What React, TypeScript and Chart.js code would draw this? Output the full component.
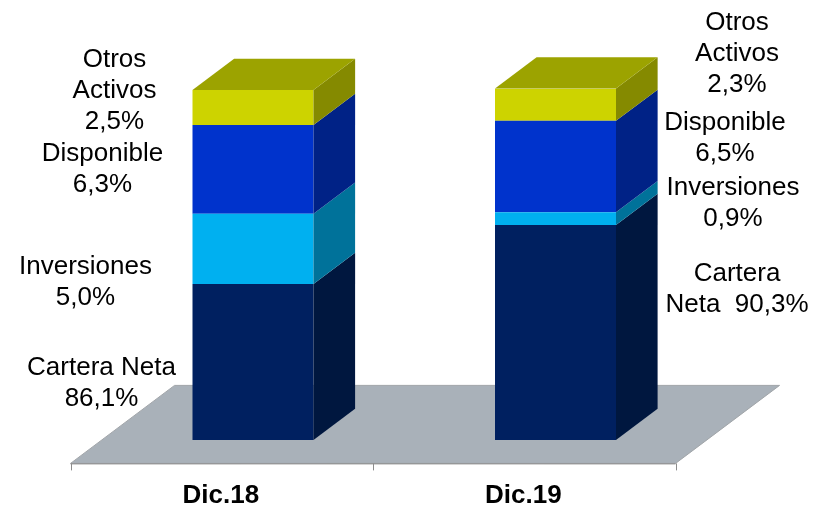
import React, { useEffect, useRef } from 'react';
import { Chart, registerables } from 'chart.js';

Chart.register(...registerables);

// ---- Data ----
const categories = ['Dic.18', 'Dic.19'];
const seriesNames = ['Cartera Neta', 'Inversiones', 'Disponible', 'Otros Activos'];
const carteraNeta = [86.1, 90.3];
const inversiones = [5.0, 0.9];
const disponible = [6.3, 6.5];
const otrosActivos = [2.5, 2.3];
const axisMin = 75;
const axisMax = 100;

// ---- Styles ----
const frontColors = ['#002060', '#00B0F0', '#0033CC', '#CDD300'];
const sideColors = ['#00173F', '#00729A', '#002286', '#858A00'];
const topColors = ['#001A50', '#0090C8', '#0029A5', '#9CA300'];
const FONT = '"Liberation Sans", Arial, sans-serif';

// 3D geometry (floor depth vector, bar front/back fraction of depth)
const DEPTH_X = 104;
const DEPTH_Y = -78;
const FRONT = 0.3;
const BAR_DEPTH = 0.4;
const LINE_H = 31;

// Label placement per bar (0: left of bar, 1: right of bar), per series
const labelLayout = [
  [
    { lines: ['Cartera Neta', '{v}'], dx: -91, dy: 19.5 },
    { lines: ['Inversiones', '{v}'], dx: -107, dy: 31 },
    { lines: ['Disponible', '{v}'], dx: -90, dy: -2.5 },
    { lines: ['Otros', 'Activos', '{v}'], dx: -78, dy: -19 },
  ],
  [
    { lines: ['Cartera', 'Neta  {v}'], dx: 121, dy: -45.5 },
    { lines: ['Inversiones', '{v}'], dx: 117, dy: -17.5 },
    { lines: ['Disponible', '{v}'], dx: 109, dy: -30 },
    { lines: ['Otros', 'Activos', '{v}'], dx: 121, dy: -53 },
  ],
];

const fmt = (v: number) => v.toFixed(1).replace('.', ',') + '%';

const threeDPlugin = {
  id: 'threeD',
  beforeDatasetsDraw(chart: any) {
    const { ctx, chartArea: ca } = chart;
    const fx = DEPTH_X * FRONT;
    const fy = DEPTH_Y * FRONT;
    const x0 = ca.left - fx;
    const x1 = ca.right - fx;
    const y0 = ca.bottom - fy;
    ctx.save();
    // floor
    ctx.beginPath();
    ctx.moveTo(x0, y0);
    ctx.lineTo(x1, y0);
    ctx.lineTo(x1 + DEPTH_X, y0 + DEPTH_Y);
    ctx.lineTo(x0 + DEPTH_X, y0 + DEPTH_Y);
    ctx.closePath();
    ctx.fillStyle = '#A9B1B9';
    ctx.fill();
    ctx.lineWidth = 1;
    ctx.strokeStyle = '#A0A4A8';
    ctx.stroke();
    // front edge + ticks
    ctx.beginPath();
    ctx.strokeStyle = '#8C8C8C';
    ctx.moveTo(x0, y0 + 0.5);
    ctx.lineTo(x1, y0 + 0.5);
    const n = categories.length;
    for (let i = 0; i <= n; i++) {
      const x = Math.round(x0 + ((x1 - x0) * i) / n) + 0.5;
      ctx.moveTo(x, y0);
      ctx.lineTo(x, y0 + 7);
    }
    ctx.stroke();
    // category labels
    const xs = chart.scales.x;
    ctx.fillStyle = '#000';
    ctx.font = 'bold 26px ' + FONT;
    ctx.textAlign = 'center';
    ctx.textBaseline = 'alphabetic';
    chart.data.labels.forEach((lab: string, i: number) => {
      ctx.fillText(lab, xs.getPixelForValue(i) - fx - 1, y0 + 40);
    });
    ctx.restore();
  },
  afterDatasetsDraw(chart: any) {
    const { ctx, chartArea: ca } = chart;
    const bx = DEPTH_X * BAR_DEPTH;
    const by = DEPTH_Y * BAR_DEPTH;
    const nd = chart.data.datasets.length;
    ctx.save();
    const segs: any[] = [];
    for (let d = 0; d < nd; d++) {
      const meta = chart.getDatasetMeta(d);
      meta.data.forEach((el: any, i: number) => {
        const p = el.getProps(['x', 'y', 'base', 'width'], true);
        const left = p.x - p.width / 2;
        const right = p.x + p.width / 2;
        const top = Math.min(p.y, p.base);
        const bottom = Math.min(Math.max(p.y, p.base), ca.bottom);
        if (bottom <= top) return;
        segs.push({ d, i, left, right, top, bottom });
        // side face
        ctx.beginPath();
        ctx.moveTo(right, top);
        ctx.lineTo(right + bx, top + by);
        ctx.lineTo(right + bx, bottom + by);
        ctx.lineTo(right, bottom);
        ctx.closePath();
        ctx.fillStyle = sideColors[d];
        ctx.fill();
        if (d === nd - 1) {
          ctx.beginPath();
          ctx.moveTo(left, top);
          ctx.lineTo(left + bx, top + by);
          ctx.lineTo(right + bx, top + by);
          ctx.lineTo(right, top);
          ctx.closePath();
          ctx.fillStyle = topColors[d];
          ctx.fill();
        }
      });
    }
    // labels
    ctx.fillStyle = '#000';
    ctx.font = '26px ' + FONT;
    ctx.textAlign = 'center';
    ctx.textBaseline = 'alphabetic';
    segs.forEach((s) => {
      const lay = labelLayout[s.i][s.d];
      const v = chart.data.datasets[s.d].data[s.i];
      const anchor = s.i === 0 ? s.left : s.right;
      const cx = anchor + lay.dx;
      const cy = (s.top + s.bottom) / 2 + lay.dy;
      const n = lay.lines.length;
      lay.lines.forEach((ln: string, k: number) => {
        const mid = cy + (k - (n - 1) / 2) * LINE_H;
        ctx.fillText(ln.replace('{v}', fmt(v)), cx, mid + 9.3);
      });
    });
    ctx.restore();
  },
};

export default function App() {
  const ref = useRef<HTMLCanvasElement>(null);
  useEffect(() => {
    const series = [carteraNeta, inversiones, disponible, otrosActivos];
    const chart = new Chart(ref.current as HTMLCanvasElement, {
      type: 'bar',
      data: {
        labels: categories,
        datasets: series.map((data, d) => ({
          label: seriesNames[d],
          data,
          backgroundColor: frontColors[d],
          borderWidth: 0,
          barPercentage: 0.4,
          categoryPercentage: 1,
        })),
      },
      options: {
        responsive: false,
        animation: false,
        layout: { padding: { left: 101.75, right: 115.25, top: 88.5, bottom: 67 } },
        plugins: { legend: { display: false }, tooltip: { enabled: false } },
        scales: {
          x: { display: false, stacked: true },
          y: { display: false, stacked: true, min: axisMin, max: axisMax },
        },
      },
      plugins: [threeDPlugin],
    });
    return () => chart.destroy();
  }, []);
  return (
    <div style={{ position: 'fixed', left: 0, top: 0, width: 822, height: 507, background: '#fff' }}>
      <canvas ref={ref} width={822} height={507} style={{ display: 'block' }} />
    </div>
  );
}
